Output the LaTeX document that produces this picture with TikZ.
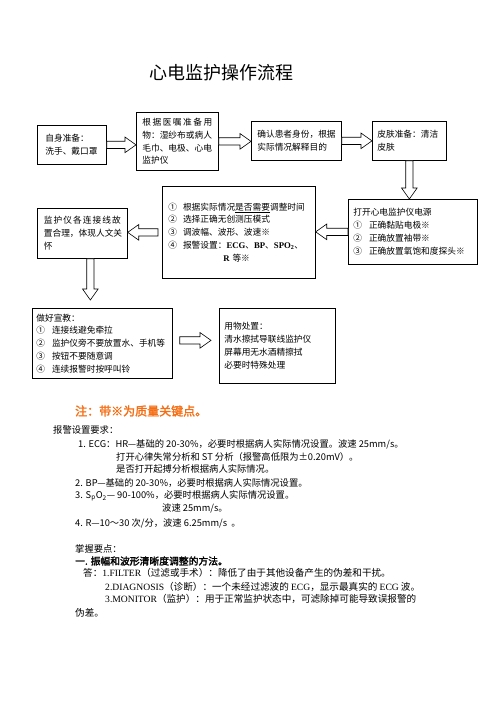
\documentclass[tikz,border=0pt]{standalone}
\usepackage{fontspec}
\setmainfont{Noto Sans CJK SC}[AutoFakeBold=2]
\newfontfamily\lat{Liberation Serif}
\usetikzlibrary{calc}
\definecolor{noteorange}{RGB}{245,110,20}

\begin{document}
\begin{tikzpicture}[x=1pt, y=-1pt]
\tikzset{
	box/.style={draw, line width=0.7pt, anchor=north west, align=left, inner ysep=0pt, font=\fontsize{8.7}{12.8}\selectfont},
	blk/.style={draw, line width=0.6pt, fill=white, to path={
		(\tikztostart) coordinate (bs) (\tikztotarget) coordinate (bt)
		($(bt)!11pt!(bs)$) coordinate (bh)
		($(bs)!3.6pt!90:(bt)$) -- ($(bh)!3.6pt!-90:(bs)$) -- ($(bh)!7.8pt!-90:(bs)$) -- (bt)
		-- ($(bh)!7.8pt!90:(bs)$) -- ($(bh)!3.6pt!90:(bs)$) -- ($(bs)!3.6pt!-90:(bt)$) -- cycle}},
	txt/.style={anchor=west, inner sep=0pt, font=\fontsize{9.3}{11}\selectfont},
	ans/.style={txt, font=\fontsize{9.6}{11}\selectfont}
}
\useasboundingbox (0,0) rectangle (496,702);

% 标题
\node[font=\fontsize{18}{20}\selectfont] (title) at (221,73) {心电监护操作流程};

% 第一行
\node[box, inner xsep=8pt, text width=53pt, minimum height=39pt] (ready) at (37,125) {自身准备：\\洗手、戴口罩};
\node[box, inner xsep=6pt, text width=70pt, minimum height=58pt] (supply) at (136,112) {\hbox to 70pt{根\hfil 据\hfil 医\hfil 嘱\hfil 准\hfil 备\hfil 用}\\物：湿纱布或病人\\毛巾、电极、心电\\监护仪};
\node[box, inner xsep=6pt, text width=78pt, minimum height=39pt] (confirm) at (251,121) {确认患者身份，根据\\实际情况解释目的\\[9pt]};
\node[box, inner xsep=5pt, text width=64pt, minimum height=39pt] (skin) at (372,121) {皮肤准备：清洁\\皮肤\\[9pt]};

% 第二行
\node[box, inner xsep=5pt, text width=119pt, minimum height=65pt] (power) at (348,199) {打开心电监护仪电源\\①\hspace{7pt}正确黏贴电极※\\②\hspace{7pt}正确放置袖带※\\③\hspace{7pt}正确放置氧饱和度探头※\\[5pt]};
\node[box, inner xsep=6pt, text width=141pt, minimum height=92pt] (adjust) at (162,186) {①\hspace{6pt}根据实际情况\underline{是否需要}调整时间\\②\hspace{6pt}选择正确无创测压模式\\③\hspace{6pt}调波幅、波形、波速※\\④\hspace{6pt}报警设置：{\lat\bfseries ECG}、{\lat\bfseries BP}、{\lat\bfseries SPO\textsubscript{2}}、\\\hspace*{55pt}{\lat\bfseries R} 等※\\[20pt]};
\node[box, inner xsep=6.5pt, text width=77pt, minimum height=50pt] (wires) at (37,208) {\hbox to 77pt{监\hfil 护\hfil 仪\hfil 各\hfil 连\hfil 接\hfil 线\hfil 故}\\置合理，体现人文关\\怀};

% 第三行
\node[box, inner xsep=4pt, text width=132pt, minimum height=70pt] (teach) at (32,308) {做好宣教：\\①\hspace{7pt}连接线避免牵拉\\②\hspace{7pt}监护仪旁不要放置水、手机等\\③\hspace{7pt}按钮不要随意调\\④\hspace{7pt}连续报警时按呼叫铃};
\node[box, inner xsep=5pt, text width=106pt, minimum height=75pt] (dispose) at (219,308) {用物处置：\\清水擦拭导联线监护仪\\屏幕用无水酒精擦拭\\必要时特殊处理\\[16pt]};

% 空心箭头
\draw[blk] (ready.east) to (supply.west |- ready.east);
\draw[blk] (supply.east) to (confirm.west |- supply.east);
\draw[blk] (confirm.east) to (skin.west);
\draw[blk] (skin.south) to (skin.south |- power.north);
\draw[blk] (power.west) to (adjust.east |- power.west);
\draw[blk] ($(adjust.west)+(-4,0)$) to (wires.east |- adjust.west);
\coordinate (wdown) at ([xshift=8pt]wires.south);
\draw[blk] (wdown) to ($(wdown |- teach.north)+(0,-8)$);
\draw[blk] ($(teach.east)+(7,-3)$) to ($(teach.east -| dispose.west)+(-8,-3)$);

% 注
\node[txt, font=\fontsize{12}{14}\selectfont\bfseries, text=noteorange] (note) at (75,411) {注：带※为质量关键点。};

% 报警设置要求
\node[txt] (alarm) at (53,430) {报警设置要求：};
\node[txt] (ecg1) at (78,444) {1. ECG：HR—基础的 20-30\%，必要时根据病人实际情况设置。波速 25mm/s。};
\node[txt] (ecg2) at (116,457) {打开心律失常分析和 ST 分析（报警高低限为±0.20mV）。};
\node[txt] (ecg3) at (116,469) {是否打开起搏分析根据病人实际情况。};
\node[txt] (bp) at (75,483) {2. BP—基础的 20-30\%，必要时根据病人实际情况设置。};
\node[txt] (spo) at (75,496) {3. S\textsubscript{p}O\textsubscript{2}— 90-100\%，必要时根据病人实际情况设置。};
\node[txt] (spo2) at (162,508) {波速 25mm/s。};
\node[txt] (resp) at (75,523) {4. R—10～30 次/分，波速 6.25mm/s \ 。};

% 掌握要点
\node[txt] (keyp) at (75,549) {掌握要点：};
\node[txt, font=\fontsize{9.8}{11}\selectfont\bfseries] (method) at (75,561) {一. 振幅和波形清晰度调整的方法。};
\node[ans] (ans1) at (83,573) {答：{\lat 1.FILTER}（过滤或手术）：降低了由于其他设备产生的伪差和干扰。};
\node[ans] (ans2) at (105,587) {{\lat 2.DIAGNOSIS}（诊断）：一个未经过滤波的 {\lat ECG}，显示最真实的 {\lat ECG} 波。};
\node[ans] (ans3) at (105,599) {{\lat 3.MONITOR}（监护）：用于正常监护状态中，可滤除掉可能导致误报警的};
\node[ans] (ans4) at (75,613) {伪差。};

\end{tikzpicture}
\end{document}
